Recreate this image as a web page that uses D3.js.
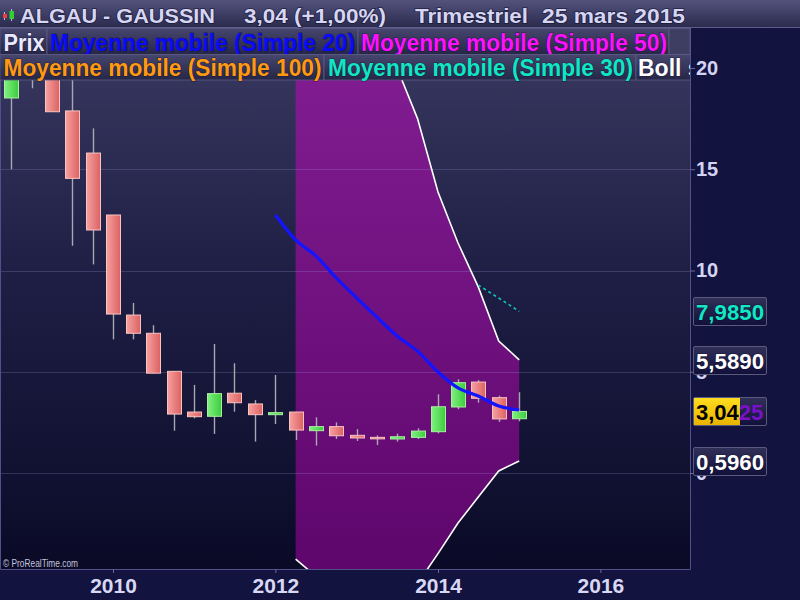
<!DOCTYPE html>
<html><head><meta charset="utf-8">
<script src="https://cdn.jsdelivr.net/npm/d3@7"></script>
<style>body{margin:0;background:#131340;} svg{display:block;font-family:"Liberation Sans",Arial,sans-serif;}</style>
</head><body><svg id="c" width="800" height="600"></svg>
<script>
// ---------- DATA ----------
const quarters = ["2008-10-01","2009-01-01","2009-04-01","2009-07-01","2009-10-01","2010-01-01","2010-04-01","2010-07-01","2010-10-01","2011-01-01","2011-04-01","2011-07-01","2011-10-01","2012-01-01","2012-04-01","2012-07-01","2012-10-01","2013-01-01","2013-04-01","2013-07-01","2013-10-01","2014-01-01","2014-04-01","2014-07-01","2014-10-01","2015-01-01"];
const openV  = [18.52,21.0,20.0,17.88,15.80,12.74,7.80,6.90,5.02,3.01,2.80,3.94,3.41,2.88,3.01,2.09,2.29,1.86,1.76,1.68,1.76,2.04,3.26,4.49,3.72,2.68];
const highV  = [21.5,22.5,20.4,19.9,17.02,12.74,8.40,7.30,5.02,4.35,6.37,5.42,3.60,4.84,3.01,2.75,2.50,2.17,1.86,1.94,2.21,3.89,4.63,4.59,3.82,3.99];
const lowV   = [15.0,19.0,17.84,11.22,10.3,6.60,6.60,4.90,2.09,2.70,1.93,3.03,1.55,2.42,1.63,1.35,1.68,1.58,1.38,1.55,1.68,1.96,3.15,3.47,2.52,2.55];
const closeV = [21.0,20.0,17.84,14.55,12.00,7.85,6.90,4.93,2.91,2.78,3.92,3.47,2.88,2.98,2.12,2.29,1.84,1.73,1.69,1.79,2.07,3.27,4.46,3.69,2.67,3.04];
// SMA 20 starts at index 13, Bollinger at index 14, SMA 30 at index 23
const sma20Start = 13;
const sma20 = [12.74,11.51,10.72,9.63,8.64,7.70,6.77,6.02,4.99,4.20,3.80,3.31,3.11];
const bollStart = 14;
const bollUpper = [27.3,27.0,25.5,23.9,22.2,20.0,17.5,13.88,11.36,9.19,6.52,5.589];
const bollLower = [-4.25,-5.1,-5.9,-6.4,-6.6,-6.4,-5.46,-3.98,-2.47,-1.19,0.10,0.596];
const sma30Start = 23;
const sma30 = [9.28,8.64,7.985];
const yTicks = [0,5,10,15,20];
const xTickYears = [2010,2012,2014,2016];
const headerTexts = ["ALGAU - GAUSSIN","3,04 (+1,00%)","Trimestriel","25 mars 2015"];
const legendRow1 = ["Prix","Moyenne mobile (Simple 20)","Moyenne mobile (Simple 50)"];
const legendRow2 = ["Moyenne mobile (Simple 100)","Moyenne mobile (Simple 30)","Boll sup"];
const valueLabels = ["7,9850","5,5890","3,0425","0,5960"];
const valueNums = [7.985,5.589,3.0425,0.596];

// ---------- SETUP ----------
const W=800,H=600, PL=0, PR=690, PT=28, PB=569;
const svg=d3.select("#c");
const parse=d3.utcParse("%Y-%m-%d");
const dates=quarters.map(parse);
const x=d3.scaleUtc().domain([new Date(Date.UTC(2010,0,1)),new Date(Date.UTC(2014,0,1))]).range([113,438]);
const y=d3.scaleLinear().domain([0,20]).range([473,68]);

const defs=svg.append("defs");
function lg(id,stops,x1,y1,x2,y2,user){
  const g=defs.append("linearGradient").attr("id",id).attr("x1",x1).attr("y1",y1).attr("x2",x2).attr("y2",y2);
  if(user) g.attr("gradientUnits","userSpaceOnUse");
  stops.forEach(s=>g.append("stop").attr("offset",s[0]).attr("stop-color",s[1]));
}
lg("bg",[[0,"#3a3a62"],[0.45,"#1f1f46"],[1,"#0a0a27"]],0,PT,0,PB,true);
lg("band",[[0,"#801c90"],[1,"#5e066c"]],0,80,0,PB,true);
lg("hdr",[[0,"#52527c"],[1,"#2a2a4e"]],0,0,0,1);
lg("leg",[[0,"#46466e"],[1,"#262648"]],0,0,0,1);
lg("red",[[0,"#f7a0a0"],[1,"#dc6262"]],0,0,1,0);
lg("green",[[0,"#80f080"],[1,"#3ccc3c"]],0,0,1,0);
lg("box",[[0,"#303058"],[1,"#10103a"]],0,0,0,1);
lg("yel",[[0,"#ffdc20"],[1,"#e8b400"]],0,0,0,1);
defs.append("clipPath").attr("id","plot").append("rect").attr("x",PL).attr("y",PT).attr("width",PR-PL).attr("height",PB-PT);
defs.append("clipPath").attr("id","leg2").append("rect").attr("x",0).attr("y",0).attr("width",PR).attr("height",H);

svg.append("rect").attr("width",W).attr("height",H).attr("fill","#131340");
svg.append("rect").attr("x",PL).attr("y",PT).attr("width",PR-PL).attr("height",PB-PT).attr("fill","url(#bg)");

const plot=svg.append("g").attr("clip-path","url(#plot)");

// Bollinger band
const bIdx=bollUpper.map((d,i)=>i);
const bx=i=>x(dates[bollStart+i]);
plot.append("path").datum(bIdx)
  .attr("d",d3.area().x(bx).y0(i=>y(bollLower[i])).y1(i=>y(bollUpper[i])))
  .attr("fill","url(#band)");
// grid
plot.selectAll("line.grid").data(yTicks).join("line").attr("class","grid")
  .attr("x1",PL).attr("x2",PR).attr("y1",d=>Math.round(y(d))+0.5).attr("y2",d=>Math.round(y(d))+0.5)
  .attr("stroke","rgba(170,170,230,0.22)").attr("stroke-width",1);
[bollUpper,bollLower].forEach(arr=>{
  plot.append("path").datum(bIdx).attr("d",d3.line().x(bx).y(i=>y(arr[i])))
    .attr("fill","none").attr("stroke","#ffffff").attr("stroke-width",1.6);
});

// SMA30 dashed
plot.append("path").datum(sma30.map((v,i)=>i))
  .attr("d",d3.line().x(i=>x(dates[sma30Start+i])).y(i=>y(sma30[i])))
  .attr("fill","none").attr("stroke","#12c8b8").attr("stroke-width",1.6).attr("stroke-dasharray","3,3");

// Candles
const cw=14;
const cidx=dates.map((d,i)=>i);
plot.selectAll("line.wick").data(cidx).join("line").attr("class","wick")
  .attr("x1",i=>Math.round(x(dates[i]))+0.5).attr("x2",i=>Math.round(x(dates[i]))+0.5)
  .attr("y1",i=>y(highV[i])).attr("y2",i=>y(lowV[i]))
  .attr("stroke","#a8a8b0").attr("stroke-width",1.4);
plot.selectAll("rect.body").data(cidx).join("rect").attr("class","body")
  .attr("x",i=>Math.round(x(dates[i]))-cw/2+0.5)
  .attr("y",i=>y(Math.max(openV[i],closeV[i])))
  .attr("width",cw)
  .attr("height",i=>Math.max(1.5,Math.abs(y(openV[i])-y(closeV[i]))))
  .attr("fill",i=>closeV[i]>=openV[i]?"url(#green)":"url(#red)")
  .attr("stroke",i=>closeV[i]>=openV[i]?"#a8f0a0":"#f8c4c0").attr("stroke-width",1);

// SMA20 blue
plot.append("path").datum(sma20.map((v,i)=>i))
  .attr("d",d3.line().curve(d3.curveMonotoneX).x(i=>x(dates[sma20Start+i])).y(i=>y(sma20[i])))
  .attr("fill","none").attr("stroke","#1414ff").attr("stroke-width",3.2).attr("stroke-linejoin","round");

// borders
svg.append("path").attr("d",`M${PL+0.5},${PT}V${PB+0.5}H${PR+0.5}V${PT}`).attr("fill","none").attr("stroke","#50508a").attr("stroke-width",1);

// bottom axis
const xa=svg.append("g").attr("transform",`translate(0,${PB})`)
  .call(d3.axisBottom(x).tickValues(xTickYears.map(yr=>new Date(Date.UTC(yr,0,1)))).tickFormat(d3.utcFormat("%Y")).tickSize(4).tickPadding(5));
xa.select(".domain").remove();
xa.selectAll(".tick line").attr("stroke","#6a6a9a");
xa.selectAll(".tick text").attr("fill","#d8d8f4").attr("font-size",21).attr("font-weight","bold")
  .attr("font-family","Liberation Sans, Arial, sans-serif").attr("y",24).attr("dy","0");

// right axis
const ya=svg.append("g").attr("transform",`translate(${PR},0)`)
  .call(d3.axisRight(y).tickValues(yTicks).tickFormat(d3.format("d")).tickSize(5).tickPadding(1));
ya.select(".domain").remove();
ya.selectAll(".tick line").attr("stroke","#6a6a9a");
ya.selectAll(".tick text").attr("fill","#d4d4f2").attr("font-size",20).attr("font-weight","bold")
  .attr("font-family","Liberation Sans, Arial, sans-serif");

// legend rows
function legRow(y0,h,segs){
  const g=svg.append("g");
  segs.forEach(s=>{
    g.append("rect").attr("x",s.x0).attr("y",y0).attr("width",s.x1-s.x0).attr("height",h)
      .attr("fill",s.fill||"url(#leg)").attr("stroke","#5c5c86").attr("stroke-width",0.8);
    if(s.t){
      const t=g.append("text").attr("x",s.tx).attr("y",y0+h-4).text(s.t)
        .attr("fill",s.c).attr("font-size",23).attr("font-weight","bold")
        .attr("stroke","rgba(10,10,40,0.55)").attr("stroke-width",1.2).attr("paint-order","stroke");
      if(s.len) t.attr("textLength",s.len).attr("lengthAdjust","spacingAndGlyphs");
    }
  });
  return g;
}
legRow(28.5,26,[
  {x0:0,x1:47,t:legendRow1[0],tx:3.5,len:41,c:"#eaeaff"},
  {x0:47,x1:358,t:legendRow1[1],tx:50,len:305,c:"#0a0aff"},
  {x0:358,x1:669,t:legendRow1[2],tx:361,len:306,c:"#ff10ff"},
  {x0:669,x1:690,fill:"#3e3e62"}
]);
legRow(54.5,25.5,[
  {x0:0,x1:324,t:legendRow2[0],tx:3.5,len:318,c:"#ff9a10"},
  {x0:324,x1:636,t:legendRow2[1],tx:328,len:305,c:"#10e6c4"},
  {x0:636,x1:720,t:legendRow2[2],tx:638,c:"#ffffff"}
]).attr("clip-path","url(#leg2)");

// header
svg.append("rect").attr("x",0).attr("y",0).attr("width",W).attr("height",28).attr("fill","url(#hdr)");
svg.append("line").attr("x1",0).attr("x2",W).attr("y1",27.5).attr("y2",27.5).attr("stroke","#5e5e8c");
const hx=[20,244,415,542], hl=[195,142,113,143];
headerTexts.forEach((t,i)=>{
  svg.append("text").attr("x",hx[i]).attr("y",22.5).text(t).attr("fill","#d6d6f2")
    .attr("font-size",20).attr("font-weight","bold").attr("textLength",hl[i]).attr("lengthAdjust","spacingAndGlyphs")
    .attr("stroke","rgba(10,10,40,0.6)").attr("stroke-width",1.5).attr("paint-order","stroke");
});
// logo
svg.append("line").attr("x1",4.5).attr("x2",4.5).attr("y1",12).attr("y2",20).attr("stroke","#c0c0c0");
svg.append("rect").attr("x",3).attr("y",14).attr("width",4).attr("height",4).attr("fill","#e84040");
svg.append("line").attr("x1",11.5).attr("x2",11.5).attr("y1",9).attr("y2",21).attr("stroke","#c0c0c0");
svg.append("rect").attr("x",9.5).attr("y",11).attr("width",4.5).attr("height",8).attr("fill","#30d030");

// value boxes
const vcol=["#10e8c4","#ffffff","#000000","#ffffff"];
valueNums.forEach((v,i)=>{
  const cy=y(v), top=Math.round(cy)-14;
  svg.append("rect").attr("x",693.5).attr("y",top+0.5).attr("width",73).attr("height",28).attr("rx",1.5)
    .attr("fill","url(#box)").attr("stroke","#5a5a7e");
  if(i===2){
    svg.append("rect").attr("x",694).attr("y",top+1).attr("width",46).attr("height",27).attr("fill","url(#yel)");
    const t=svg.append("text").attr("x",696).attr("y",top+23).attr("font-size",22).attr("font-weight","bold");
    t.append("tspan").text(valueLabels[i].slice(0,4)).attr("fill","#000000");
    t.append("tspan").text(valueLabels[i].slice(4)).attr("fill","#7a10c8");
  } else {
    svg.append("text").attr("x",696).attr("y",top+23).text(valueLabels[i]).attr("fill",vcol[i])
      .attr("font-size",22).attr("font-weight","bold").attr("textLength",68).attr("lengthAdjust","spacingAndGlyphs")
      .attr("stroke","rgba(0,0,30,0.5)").attr("stroke-width",1).attr("paint-order","stroke");
  }
});

// copyright
svg.append("text").attr("x",3).attr("y",567).text("© ProRealTime.com").attr("fill","#c4c4dc")
  .attr("font-size",10).attr("textLength",75).attr("lengthAdjust","spacingAndGlyphs");
</script></body></html>
